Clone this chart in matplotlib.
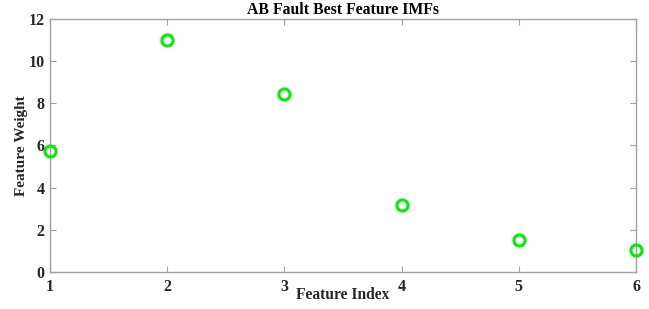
import matplotlib
matplotlib.use("Agg")
import matplotlib.pyplot as plt

feature_index = [1, 2, 3, 4, 5, 6]
feature_weight = [5.74, 10.97, 8.42, 3.19, 1.51, 1.06]
yticks = [0, 2, 4, 6, 8, 10, 12]

plt.rcParams['font.family'] = ['Liberation Serif']
plt.rcParams['font.weight'] = 'bold'

fig = plt.figure(figsize=(6.49, 3.09), dpi=100)
ax = fig.add_axes([0.077, 0.119, 0.903, 0.8206])
ax.plot(feature_index, feature_weight, 'o', mfc='none', mec='#00ee00', mew=2.2,
        ms=8, clip_on=False, zorder=5)
ax.set_xlim(1, 6)
ax.set_ylim(0, 12)
ax.set_xticks(feature_index)
ax.set_yticks(yticks)
for s in ax.spines.values():
    s.set_color('#a0a0a0')
    s.set_linewidth(1.0)
ax.tick_params(direction='in', top=True, right=True, colors='#a0a0a0',
               labelcolor='#262626', labelsize=11.5, length=4)
ax.tick_params(axis='x', pad=5)
ax.tick_params(axis='y', pad=4)
for lab in ax.get_xticklabels() + ax.get_yticklabels():
    lab.set_fontweight('bold')
ax.set_xlabel('Feature Index', fontsize=11.2, fontweight='bold', color='#262626', labelpad=-6)
ax.set_ylabel('Feature Weight', fontsize=11, fontweight='bold', color='#262626', labelpad=0)
ax.set_title('AB Fault Best Feature IMFs', fontsize=11.3, fontweight='bold', color='#000000', pad=3)
fig.savefig('out.png', dpi=100)
